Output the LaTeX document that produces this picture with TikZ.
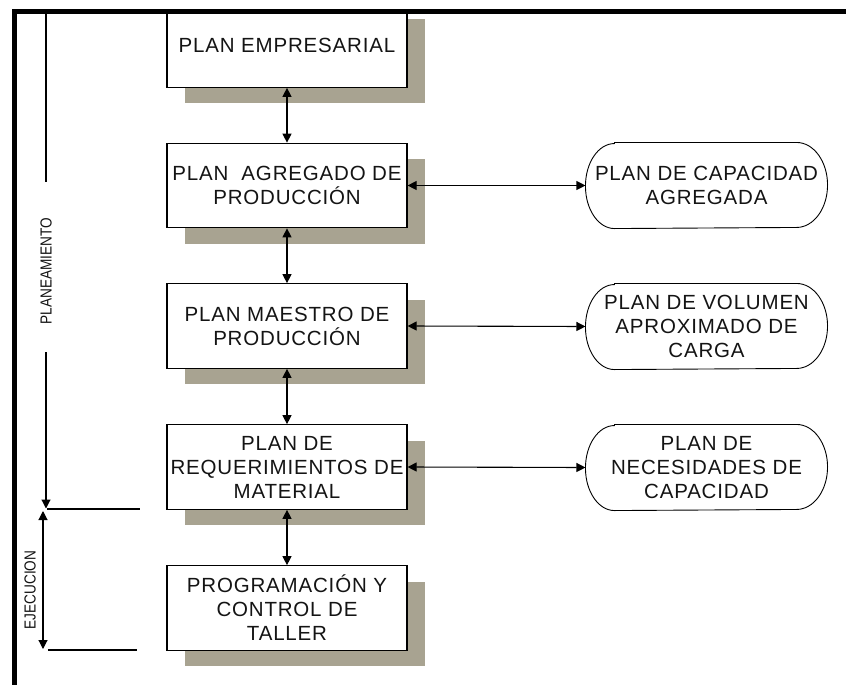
\documentclass[tikz,border=0pt]{standalone}
\usepackage{fontspec}
\setmainfont{Liberation Sans}
\newfontfamily\boxfont[LetterSpace=4]{Liberation Sans}
\usetikzlibrary{arrows.meta,shadows}
\definecolor{shadowtan}{RGB}{168,163,145}
\begin{document}
\begin{tikzpicture}[x=1pt,y=-1pt,
  >={Triangle[width=9pt,length=9pt]},
  line width=1.1pt,
  boxtext/.style={font=\boxfont\fontsize{20.5}{24}\selectfont, text=black!92, align=center, inner sep=0pt},
  planbox/.style={boxtext, draw=black, line width=1.2pt, fill=white,
    minimum width=240pt, minimum height=84.5pt,
    drop shadow={shadow xshift=17.5pt, shadow yshift=-16pt, fill=shadowtan, opacity=1}},
  capsule/.style={boxtext, minimum width=241pt, minimum height=85pt},
  sidelabel/.style={font=\fontsize{16}{18}\selectfont, text=black!92, inner sep=0pt, rotate=90}
]
\useasboundingbox (0,0) rectangle (846,685);
\fill[white] (0,0) rectangle (846,685);

% main planning chain
\node[planbox] (emp) at (287,45)    {PLAN EMPRESARIAL};
\node[planbox] (agr) at (287,185.5) {PLAN\ \ AGREGADO DE\\PRODUCCIÓN};
\node[planbox] (mae) at (287,326)   {PLAN MAESTRO DE\\PRODUCCIÓN};
\node[planbox] (req) at (287,467)   {PLAN DE\\REQUERIMIENTOS DE\\MATERIAL};
\node[planbox] (tal) at (287,608)   {PROGRAMACIÓN Y\\CONTROL DE\\TALLER};

% capacity plans
\node[capsule] (cap) at (706.5,185.5) {PLAN DE CAPACIDAD\\AGREGADA};
\node[capsule] (vol) at (706.5,326.5) {PLAN DE VOLUMEN\\APROXIMADO DE\\CARGA};
\node[capsule] (nec) at (706.5,467.5) {PLAN DE\\NECESIDADES DE\\CAPACIDAD};
\foreach \n in {cap,vol,nec}{
  \draw[line width=0.9pt] ([xshift=29pt]\n.north west) -- ([xshift=-31pt]\n.north east)
    arc[start angle=90, end angle=-90, x radius=31pt, y radius=42.5pt]
    -- ([xshift=29pt]\n.south west)
    arc[start angle=270, end angle=90, x radius=29pt, y radius=42.5pt] -- cycle;
}

% connectors
\draw[<->] (emp.south) -- (agr.north);
\draw[<->] (agr.south) -- (mae.north);
\draw[<->] (mae.south) -- (req.north);
\draw[<->] (req.south) -- (tal.north);
\draw[<->] (agr.east) -- (cap.west);
\draw[<->] (mae.east) -- (vol.west);
\draw[<->] (req.east) -- (nec.west);

% phase brackets on the left
\node[sidelabel] (plane) at (46,271) {\scalebox{0.85}[1]{PLANEAMIENTO}};
\node[sidelabel] (ejec) at (30,590) {\scalebox{0.85}[1]{EJECUCION}};
\coordinate (pTop) at (46,12);
\coordinate (pUp) at (46,182);
\coordinate (pLow) at (46,352);
\coordinate (pEnd) at (46,508.5);
\coordinate (sepL) at (47,509);
\coordinate (sepR) at (140,509);
\coordinate (eTop) at (43,511);
\coordinate (eEnd) at (43,649);
\coordinate (endL) at (48,650);
\coordinate (endR) at (137,650);
\draw (pTop) -- (pUp);
\draw[->] (pLow) -- (pEnd);
\draw (sepL) -- (sepR);
\draw[<->] (eTop) -- (eEnd);
\draw (endL) -- (endR);

% frame: blank margin above and left, then the thick border
\fill[white] (0,0) rectangle (846,9);
\fill[white] (0,0) rectangle (12,685);
\fill[black] (12,9) rectangle (846,14.3);
\fill[black] (12,9) rectangle (17,685);
\end{tikzpicture}
\end{document}
